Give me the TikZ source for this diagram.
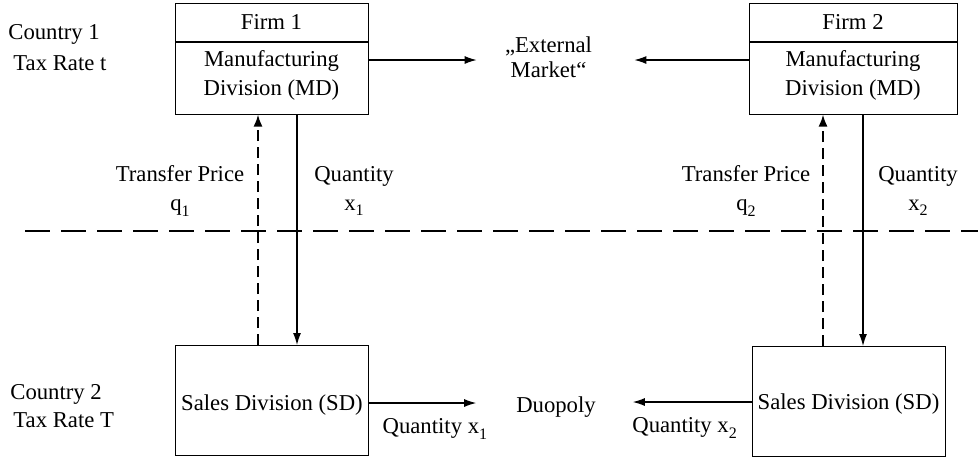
\documentclass[tikz,border=0pt]{standalone}
\usepackage{fontspec}
\setmainfont{Liberation Serif}
\usetikzlibrary{arrows.meta,positioning}
\newcommand{\lowsub}[1]{\raisebox{-0.55ex}{\footnotesize #1}}
\newcommand{\shifttext}[2]{\raisebox{#1}[\height][\depth]{#2}}

\begin{document}
\begin{tikzpicture}[x=0.5pt,y=-0.5pt]
\tikzset{
every node/.style={font=\fontsize{11.35}{13.5}\selectfont},
firmbox/.style={rectangle,draw=black,line width=0.5pt,minimum height=19pt,inner sep=0pt},
divbox/.style={rectangle,draw=black,line width=0.5pt,minimum height=36pt,align=center,inner sep=0pt},
salesbox/.style={rectangle,draw=black,line width=0.5pt,minimum width=96.5pt,minimum height=55pt,inner sep=0pt},
myarrow/.style={-{Latex[length=6pt,width=4pt]}, line width=0.6pt},
dashedarrow/.style={-{Latex[length=6pt,width=4.5pt]}, line width=1pt, dash pattern=on 5.5pt off 3pt},
border/.style={line width=1.3pt, dash pattern=on 12.5pt off 5.5pt},
mylabel/.style={align=center, inner sep=0pt},
}
\useasboundingbox (0,0) rectangle (978,457);

\node[firmbox, minimum width=96.5pt] (firm1) at (271.5,22) {Firm 1};
\node[divbox, minimum width=96.5pt, below=0pt of firm1] (md1) {\shifttext{1.5pt}{Manufacturing}\\[1pt]\shifttext{1.5pt}{Division (MD)}};
\node[firmbox, minimum width=104pt] (firm2) at (853,22) {Firm 2};
\node[divbox, minimum width=104pt, below=0pt of firm2] (md2) {\shifttext{1.5pt}{Manufacturing}\\[1pt]\shifttext{1.5pt}{Division (MD)}};
\node[salesbox] (sd1) at (272,400.5) {\shifttext{-2.5pt}{Sales Division (SD)}};
\node[salesbox] (sd2) at (848.5,401.5) {\shifttext{-1.5pt}{Sales Division (SD)}};
\node[mylabel] (market) at (548.5,57.5) {„External\\[-1pt]Market“};
\node (duopoly) at (556,407) {Duopoly};
\node[mylabel, align=left, anchor=west] (country1) at (8,48) {Country 1\\[2pt]\hspace{2.5pt}Tax Rate t};
\node[mylabel, align=left, anchor=west] (country2) at (10,406) {Country 2\\[0.5pt]\hspace{1.5pt}Tax Rate T};
\node[mylabel] (tp1) at (180,191) {Transfer Price\\[1pt]q\lowsub{1}};
\node[mylabel] (qt1) at (354,191) {Quantity\\[1pt]x\lowsub{1}};
\node[mylabel] (tp2) at (746,191) {Transfer Price\\[1pt]q\lowsub{2}};
\node[mylabel] (qt2) at (918,191) {Quantity\\[1pt]x\lowsub{2}};
\coordinate (borderL) at (25,231);
\coordinate (borderR) at (978,231);

% border between the two countries
\draw[border] (borderL) -- (borderR);
% external market
\draw[myarrow, shorten >=14pt] ([yshift=9pt]md1.east) -- ([yshift=9pt]md1.east -| market.west);
\draw[myarrow, shorten >=21pt] ([yshift=9pt]md2.west) -- ([yshift=9pt]md2.west -| market.east);
% quantities and transfer prices
\draw[myarrow] ([xshift=12.75pt]md1.south) -- ([xshift=12.75pt]md1.south |- sd1.north);
\draw[dashedarrow] ([xshift=-7pt]sd1.north) -- ([xshift=-7pt]sd1.north |- md1.south);
\draw[myarrow] ([xshift=5pt]md2.south) -- ([xshift=5pt]md2.south |- sd2.north);
\draw[dashedarrow] ([xshift=-12.75pt]sd2.north) -- ([xshift=-12.75pt]sd2.north |- md2.south);
% duopoly
\draw[myarrow, shorten >=16.5pt] ([yshift=-1.25pt]sd1.east) -- node[below=4pt, pos=0.47] {Quantity x\lowsub{1}} ([yshift=-1.25pt]sd1.east -| duopoly.west);
\draw[myarrow, shorten >=15pt] ([yshift=-0.25pt]sd2.west) -- node[below=4pt, pos=0.45] {Quantity x\lowsub{2}} ([yshift=-0.25pt]sd2.west -| duopoly.east);
\end{tikzpicture}
\end{document}
